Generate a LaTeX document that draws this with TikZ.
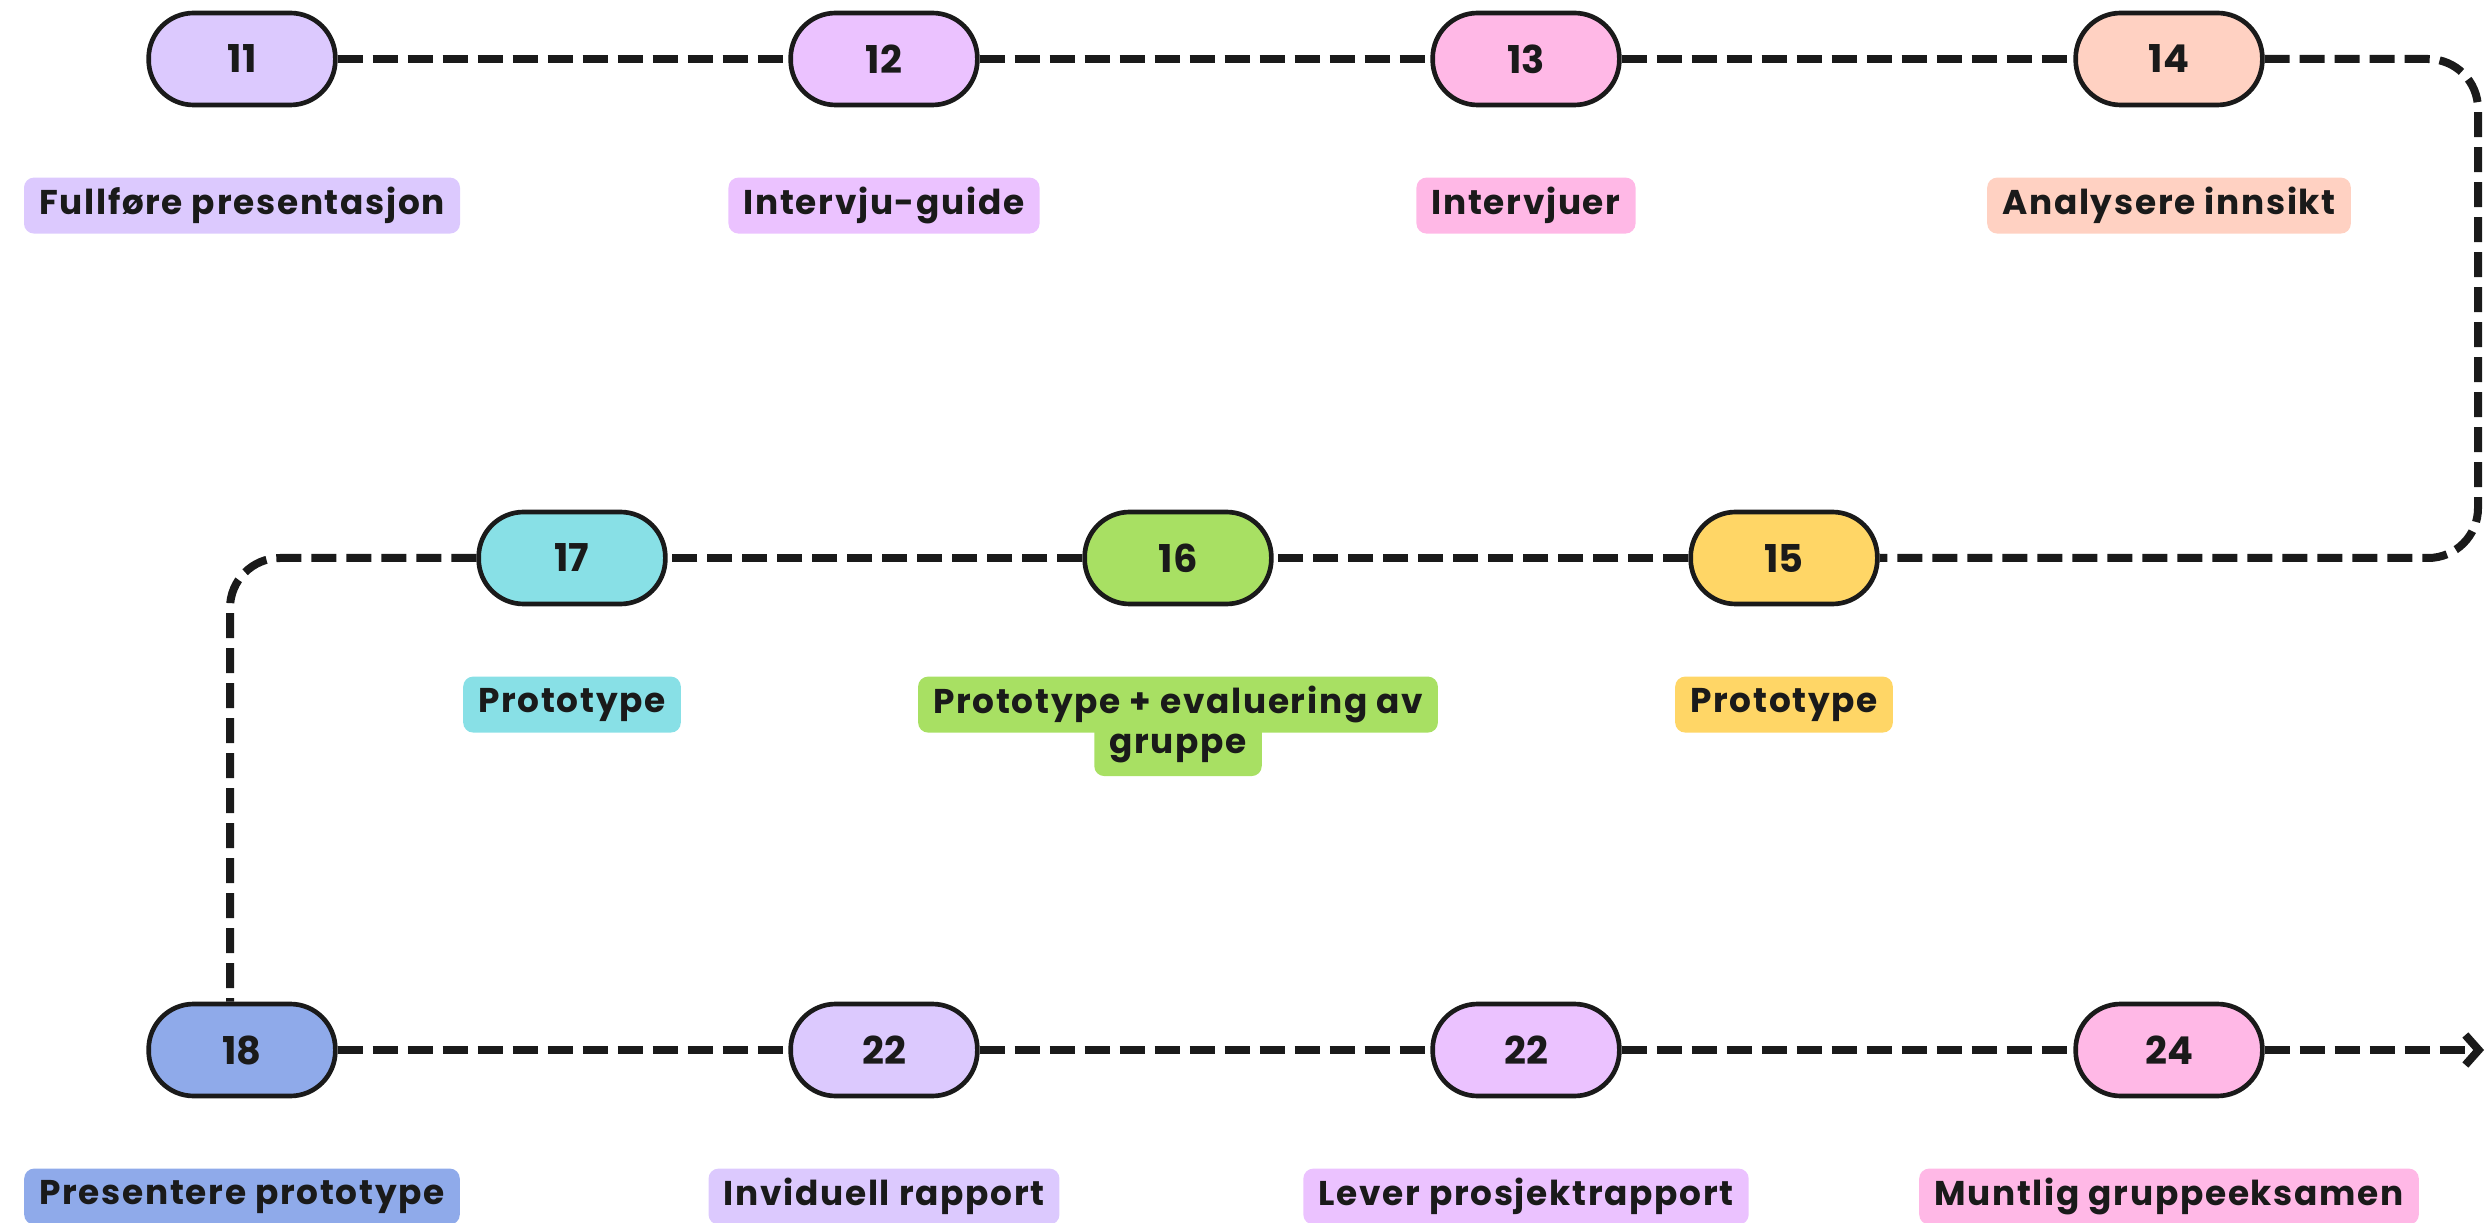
\documentclass[tikz,border=0pt]{standalone}
\usepackage{fontspec}
\setmainfont{Poppins}
\newfontfamily\tagfont{Poppins}[LetterSpace=5]
\usetikzlibrary{arrows.meta,positioning}

\definecolor{ink}{HTML}{1A1A1A}
\definecolor{lavender}{HTML}{DCC9FE}
\definecolor{lilac}{HTML}{EBC2FF}
\definecolor{pink}{HTML}{FFB8E6}
\definecolor{peach}{HTML}{FFD1C2}
\definecolor{yellow}{HTML}{FFD666}
\definecolor{green}{HTML}{A8E063}
\definecolor{cyan}{HTML}{88E0E6}
\definecolor{blue}{HTML}{8FAAEA}

\tikzset{every picture/.style={line width=0.75pt}}
\tikzset{
  pill/.style={draw=ink, line width=1.4pt, rounded corners=13.5pt, minimum width=56pt, minimum height=27.6pt, inner sep=0pt, text=ink, font=\bfseries\fontsize{11.5}{12}\selectfont},
  tag/.style={rounded corners=3pt, minimum height=16.8pt, inner xsep=4.5pt, inner ysep=0pt, text=ink, font=\tagfont\bfseries\fontsize{10.3}{11}\selectfont},
  conn/.style={draw=ink, line width=2.4pt, dash pattern=on 7.5pt off 3pt},
}

\begin{document}
\begin{tikzpicture}[x=0.3pt,y=0.3pt,yscale=-1,xscale=1,node distance=20.7pt]
    \useasboundingbox (0,0) rectangle (2486,1223);

    % Pills, first row
    \node[pill, fill=lavender] (p11) at (242,59) {11};
    \node[pill, fill=lilac] (p12) at (884,59) {12};
    \node[pill, fill=pink] (p13) at (1526,59) {13};
    \node[pill, fill=peach] (p14) at (2169,59) {14};
    % Pills, second row
    \node[pill, fill=yellow] (p15) at (1784,558) {15};
    \node[pill, fill=green] (p16) at (1178,558) {16};
    \node[pill, fill=cyan] (p17) at (572,558) {17};
    % Pills, third row
    \node[pill, fill=blue] (p18) at (242,1050) {18};
    \node[pill, fill=lavender] (p22a) at (884,1050) {22};
    \node[pill, fill=lilac] (p22b) at (1526,1050) {22};
    \node[pill, fill=pink] (p24) at (2169,1050) {24};

    % Text Node
    \node[tag, fill=lavender, below=of p11] (t11) {Fullføre presentasjon};
    \node[tag, fill=lilac, below=of p12] (t12) {Intervju-guide};
    \node[tag, fill=pink, below=of p13] (t13) {Intervjuer};
    \node[tag, fill=peach, below=of p14] (t14) {Analysere innsikt};
    \node[tag, fill=yellow, below=of p15] (t15) {Prototype};
    \node[tag, fill=green, below=of p16] (t16) {Prototype + evaluering av};
    \node[tag, fill=green, below=-4.5pt of t16] (t16b) {gruppe};
    \node[tag, fill=cyan, below=of p17] (t17) {Prototype};
    \node[tag, fill=blue, below=of p18] (t18) {Presentere prototype};
    \node[tag, fill=lavender, below=of p22a] (t22a) {Inviduell rapport};
    \node[tag, fill=lilac, below=of p22b] (t22b) {Lever prosjektrapport};
    \node[tag, fill=pink, below=of p24] (t24) {Muntlig gruppeeksamen};

    % Turning points
    \coordinate (edgeR) at (2478,59);
    \coordinate (edgeL) at (230,558);
    \coordinate (arrEnd) at (2484,1050);

    % Dashed timeline
    \draw[conn] (p11) -- (p12);
    \draw[conn] (p12) -- (p13);
    \draw[conn] (p13) -- (p14);
    \draw[conn, rounded corners=15pt] (p14.east) -- (edgeR) |- (p15.east);
    \draw[conn] (p15) -- (p16);
    \draw[conn] (p16) -- (p17);
    \draw[conn, rounded corners=15pt] (p17.west) -- (edgeL) -- (edgeL |- p18.north);
    \draw[conn] (p18) -- (p22a);
    \draw[conn] (p22a) -- (p22b);
    \draw[conn] (p22b) -- (p24);
    \draw[conn, -{Straight Barb[length=4pt,width=9pt]}] (p24) -- (arrEnd);

\end{tikzpicture}
\end{document}
